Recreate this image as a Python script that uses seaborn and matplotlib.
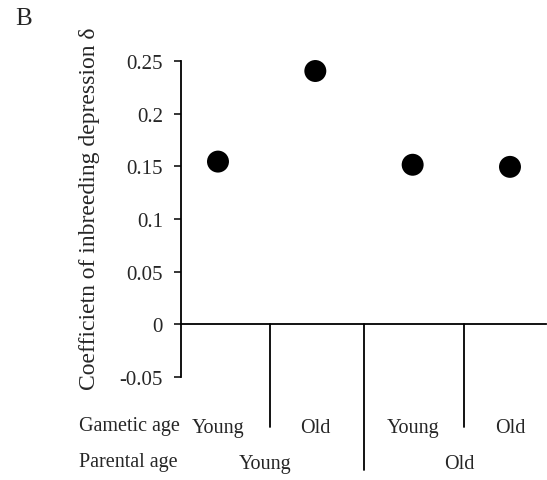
# Inbreeding depression by gametic / parental age
import seaborn as sns
import matplotlib.pyplot as plt
import pandas as pd

gametic_age = ['Young', 'Old', 'Young', 'Old']
parental_age = ['Young', 'Old']
delta = [0.1545, 0.2405, 0.1515, 0.1495]
yticks = [-0.05, 0, 0.05, 0.1, 0.15, 0.2, 0.25]

df = pd.DataFrame({'pos': range(len(delta)), 'delta': delta})

sns.set_style('white')
plt.rcParams['font.family'] = ['Liberation Serif', 'DejaVu Serif']

fig = plt.figure(figsize=(5.47, 4.81), dpi=100)
ax = fig.add_axes([181/547, 103/481, 365/547, 316/481])

sns.scatterplot(x='pos', y='delta', data=df, ax=ax, s=250, color='black',
                edgecolor='none', legend=False, clip_on=False)

ax.set_xlim(-0.38, 3.37)
ax.set_ylim(-0.05, 0.25)
ax.set_yticks(yticks)
ax.set_yticklabels([f'{t:g}' for t in yticks], fontsize=15)
ax.set_xticks([])
ax.tick_params(axis='y', direction='out', length=5, width=1.3, left=True, pad=8)

for s in ['top', 'right']:
    ax.spines[s].set_visible(False)
ax.spines['left'].set_linewidth(1.3)
ax.spines['left'].set_color('black')
ax.spines['bottom'].set_position(('data', 0))
ax.spines['bottom'].set_linewidth(1.3)
ax.spines['bottom'].set_color('black')
ax.set_xlabel('')
ax.set_ylabel('Coefficietn of inbreeding depression δ', fontsize=17)
ax.yaxis.set_label_coords(-0.222, 0.535)

# category separators below the axis
for xs, ybot in [(0.53, -0.097), (1.5, -0.138), (2.53, -0.097)]:
    ax.plot([xs, xs], [0, ybot], color='black', lw=1.3, clip_on=False)

# category labels
for i, g in enumerate(gametic_age):
    ax.text(i, -0.098, g, ha='center', va='center', fontsize=14.5, clip_on=False)
for i, p in enumerate(parental_age):
    ax.text(2 * i + 0.48, -0.132, p, ha='center', va='center', fontsize=14.5, clip_on=False)

fig.text(79/547, 1 - 427/481, 'Gametic age', ha='left', va='center', fontsize=14.5)
fig.text(79/547, 1 - 463/481, 'Parental age', ha='left', va='center', fontsize=14.5)
fig.text(15/547, 1 - 19/481, 'B', ha='left', va='center', fontsize=18)

fig.savefig('out.png', dpi=100)
